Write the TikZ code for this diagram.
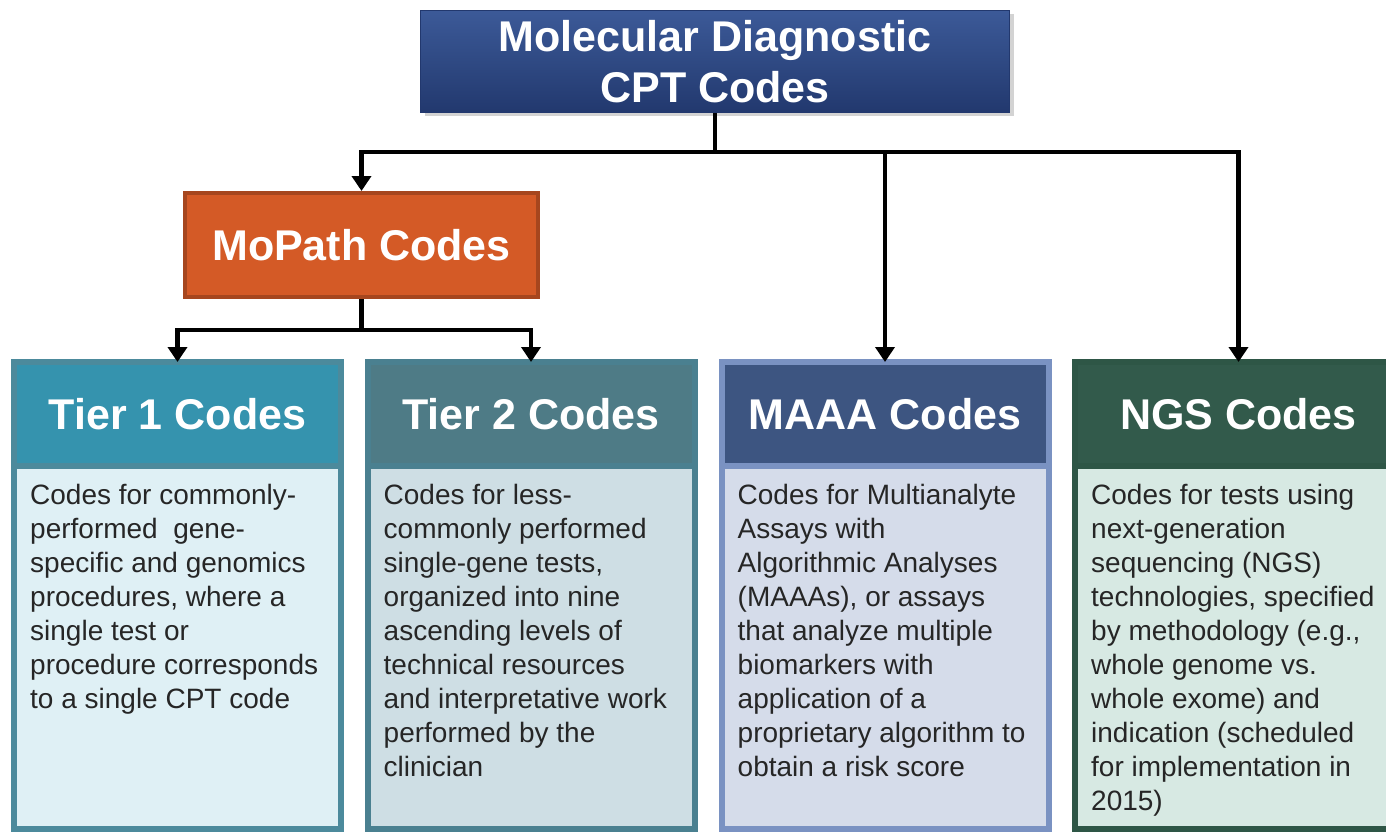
\documentclass[tikz,border=0pt]{standalone}
\usepackage{fontspec}
\setmainfont{Liberation Sans}
\usetikzlibrary{arrows.meta,shadows}

\definecolor{cptTop}{RGB}{60,90,152}
\definecolor{cptBottom}{RGB}{34,56,110}
\definecolor{mopathFill}{RGB}{212,90,38}
\definecolor{mopathLine}{RGB}{166,70,30}
\definecolor{tierAhead}{RGB}{53,147,174}
\definecolor{tierAline}{RGB}{76,138,156}
\definecolor{tierAbody}{RGB}{223,240,245}
\definecolor{tierBhead}{RGB}{78,123,134}
\definecolor{tierBline}{RGB}{74,128,144}
\definecolor{tierBbody}{RGB}{206,222,228}
\definecolor{maaaHead}{RGB}{61,85,129}
\definecolor{maaaLine}{RGB}{122,146,194}
\definecolor{maaaBody}{RGB}{213,220,234}
\definecolor{ngsHead}{RGB}{50,90,75}
\definecolor{ngsLine}{RGB}{46,86,70}
\definecolor{ngsBody}{RGB}{215,233,227}

\begin{document}
\begin{tikzpicture}[x=1pt,y=-1pt,
bus line/.style={line width=4.5pt},
link/.style={line width=4.5pt,-{Triangle[length=15pt,width=19pt]}},
title node/.style={rectangle,draw=cptBottom,line width=1pt,top color=cptTop,bottom color=cptBottom,
  text=white,align=center,font=\fontsize{43}{51}\selectfont\bfseries,
  minimum width=589pt,minimum height=102pt,
  drop shadow={shadow xshift=4pt,shadow yshift=-4pt,opacity=.35}},
mopath node/.style={rectangle,draw=mopathLine,fill=mopathFill,line width=4pt,text=white,
  font=\fontsize{43}{51}\selectfont\bfseries,minimum width=353pt,minimum height=104pt},
head node/.style={rectangle,line width=6pt,outer sep=0pt,text=white,
  font=\fontsize{43}{51}\selectfont\bfseries,minimum width=327pt,minimum height=104pt},
body node/.style={rectangle,line width=6pt,outer sep=0pt,anchor=north,
  minimum width=327pt,minimum height=363pt},
text node/.style={anchor=north west,inner sep=0pt,align=left,
  font=\fontsize{28}{34}\selectfont,text=black!85}]

\useasboundingbox (0,0) rectangle (1386,832);

% top level
\node[title node] (cpt) at (715,61.5) {Molecular Diagnostic\\CPT Codes};
\node[mopath node] (mopath) at (361.5,245) {MoPath Codes};

% tier headers
\node[head node,fill=tierAhead,draw=tierAline] (tier1) at (177.5,414) {Tier 1 Codes};
\node[head node,fill=tierBhead,draw=tierBline] (tier2) at (531,414) {Tier 2 Codes};
\node[head node,fill=maaaHead,draw=maaaLine] (maaa) at (885,414) {MAAA Codes};
\node[head node,fill=ngsHead,draw=ngsLine] (ngs) at (1238.5,414) {NGS Codes};

% tier bodies
\node[body node,fill=tierAbody,draw=tierAline] (tier1body) at (tier1.south) {};
\node[body node,fill=tierBbody,draw=tierBline] (tier2body) at (tier2.south) {};
\node[body node,fill=maaaBody,draw=maaaLine] (maaabody) at (maaa.south) {};
\node[body node,fill=ngsBody,draw=ngsLine] (ngsbody) at (ngs.south) {};

\node[text node] (tier1txt) at ([xshift=16pt,yshift=-18pt]tier1body.north west)
  {Codes for commonly-\\performed\ \ gene-\\specific and genomics\\procedures, where a\\single test or\\procedure corresponds\\to a single CPT code};
\node[text node] (tier2txt) at ([xshift=16pt,yshift=-18pt]tier2body.north west)
  {Codes for less-\\commonly performed\\single-gene tests,\\organized into nine\\ascending levels of\\technical resources\\and interpretative work\\performed by the\\clinician};
\node[text node] (maaatxt) at ([xshift=16pt,yshift=-18pt]maaabody.north west)
  {Codes for Multianalyte\\Assays with\\Algorithmic Analyses\\(MAAAs), or assays\\that analyze multiple\\biomarkers with\\application of a\\proprietary algorithm to\\obtain a risk score};
\node[text node] (ngstxt) at ([xshift=16pt,yshift=-18pt]ngsbody.north west)
  {Codes for tests using\\next-generation\\sequencing (NGS)\\technologies, specified\\by methodology (e.g.,\\whole genome vs.\\whole exome) and\\indication (scheduled\\for implementation in\\2015)};

% connectors
\coordinate (bus1) at (0,152);
\coordinate (bus2) at (0,330);
\draw[bus line] (cpt.south) -- (cpt.south |- bus1);
\draw[link] (cpt.south |- bus1) -| (mopath.north);
\draw[link] (cpt.south |- bus1) -| (maaa.north);
\draw[link] (cpt.south |- bus1) -| (ngs.north);
\draw[bus line] (mopath.south) -- (mopath.south |- bus2);
\draw[link] (mopath.south |- bus2) -| (tier1.north);
\draw[link] (mopath.south |- bus2) -| (tier2.north);
\end{tikzpicture}
\end{document}
